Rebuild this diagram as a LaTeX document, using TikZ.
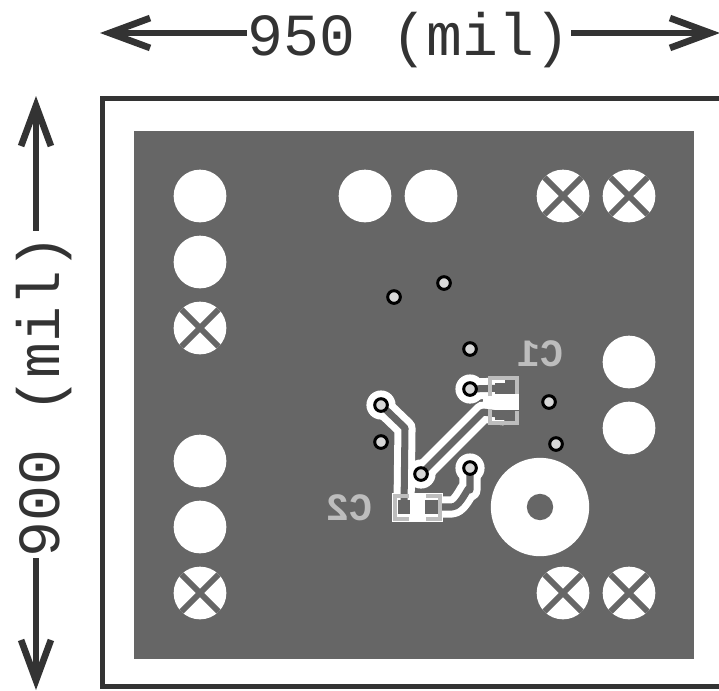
\documentclass[tikz,border=0pt]{standalone}
\usepackage{fontspec}
\setmonofont{Liberation Mono}
\newfontfamily\dimfont[FakeBold=-0.5]{Liberation Mono}
\usetikzlibrary{arrows.meta}
\definecolor{copper}{HTML}{666666}
\definecolor{silk}{HTML}{BDBDBD}
\tikzset{
dimline/.style={line width=3.2pt, draw=black!80, {Straight Barb[length=23pt,width=17pt,line width=3.8pt]}-},
dimtext/.style={inner sep=0pt, font=\dimfont\fontsize{34}{34}\selectfont, text=black!80},
hole/.style={circle, fill=white, minimum size=30pt, inner sep=0pt},
xhole/.style={hole, path picture={
    \draw[line width=3.4pt, copper] (path picture bounding box.north west) -- (path picture bounding box.south east);
    \draw[line width=3.4pt, copper] (path picture bounding box.north east) -- (path picture bounding box.south west);}},
via/.style={circle, fill=silk!60, draw=black, line width=1.7pt, minimum size=7.2pt, inner sep=0pt},
viapad/.style={circle, fill=white, minimum size=16.6pt, inner sep=0pt},
band/.style={line width=12pt, white, line join=round},
core/.style={line width=4pt, copper, line join=round},
padbox/.style={fill=copper},
silkline/.style={line width=2.6pt, silk},
silktext/.style={inner sep=0pt, xscale=-1, font=\ttfamily\bfseries\fontsize{22}{22}\selectfont, text=silk},
}
\begin{document}
\begin{tikzpicture}[x=0.02cm, y=-0.02cm]
        \useasboundingbox (0,0) rectangle (719,690);
        % board
        \draw[line width=3.2pt, draw=black!80] (102.5,98.5) rectangle (730,686.5);
        \fill[copper] (134,131) rectangle (694,659);
        % dimensions
        \node[dimtext] (width) at (409,40) {950 (mil)};
        \node[dimtext, rotate=90] (height) at (44,396) {900 (mil)};
        \coordinate (wl) at (100,33);
        \coordinate (wr) at (720,33);
        \coordinate (ht) at (36,96);
        \coordinate (hb) at (36,690);
        \draw[dimline] (wl) -- (width.west |- wl);
        \draw[dimline] (wr) -- (width.east |- wr);
        \draw[dimline] (ht) -- ([yshift=2pt]ht |- height.east);
        \draw[dimline] (hb) -- (hb |- height.west);
        % mounting holes
        \foreach \x/\y [count=\n] in {200/196, 200/262, 200/461, 200/527, 365/196, 431/196, 629/362, 629/428}
                \node[hole] (hole\n) at (\x,\y) {};
        \foreach \x/\y [count=\n] in {200/328, 200/593, 563/196, 629/196, 563/593, 629/593}
                \node[xhole] (xhole\n) at (\x,\y) {};
        \node[circle, fill=white, minimum size=56pt, inner sep=0pt] (ring) at (540,507) {};
        \node[circle, fill=copper, minimum size=15pt, inner sep=0pt] (ringhole) at (540,507) {};
        % via and pad positions
        \coordinate (va) at (470,389);
        \coordinate (vb) at (381,405);
        \coordinate (vc) at (421,474);
        \coordinate (vd) at (470,468);
        \coordinate (cia) at (505,388);
        \coordinate (cib) at (505,415);
        \coordinate (cic) at (483,412);
        \coordinate (ciia) at (404,507);
        \coordinate (ciib) at (431,507);
        % clearance round the traces
        \draw[band] (va) -- (cia);
        \draw[band] (vc) -- (cic) -- (cib);
        \draw[band] (vb) -- (405,428) -- (ciia);
        \draw[band] (vd) -- (470,490) to[out=90, in=0] (452,507) -- (ciib);
        \fill[white] (483,394) rectangle (519,410);
        \fill[white] (392,493) rectangle (443,522);
        \foreach \v in {va, vb, vc, vd}
                \node[viapad] (pad\v) at (\v) {};
        % traces
        \draw[core] (va) -- (cia);
        \draw[core] (vc) -- (cic) -- (cib);
        \draw[core] (vb) -- (405,428) -- (ciia);
        \draw[core] (vd) -- (470,490) to[out=90, in=0] (452,507) -- (ciib);
        % pads
        \fill[padbox] (495,383) rectangle (515,394);
        \fill[padbox] (495,410) rectangle (515,420);
        \fill[padbox] (398,500) rectangle (410,514);
        \fill[padbox] (425,500) rectangle (438,514);
        % silkscreen
        \draw[silkline] (490,396) |- (517,378) -- (517,394);
        \draw[silkline] (490,409) |- (517,423) -- (517,411);
        \draw[silkline] (409,496) -| (395,519) -- (409,519);
        \draw[silkline] (426,496) -| (440,519) -- (426,519);
        \node[silktext] (c1) at (540,354) {C1};
        \node[silktext] (c2) at (349,508) {C2};
        % vias
        \foreach \v in {va, vb, vc, vd}
                \node[via] (via\v) at (\v) {};
        \foreach \x/\y [count=\n] in {394/297, 444/283, 470/349, 549/402, 556/444, 381/442}
                \node[via] (via\n) at (\x,\y) {};
\end{tikzpicture}
\end{document}
